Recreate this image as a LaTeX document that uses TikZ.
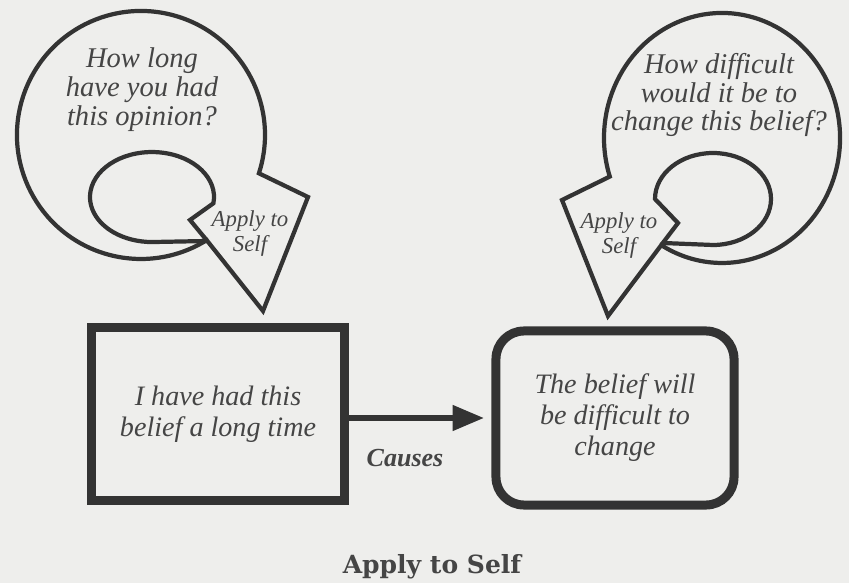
\documentclass[tikz,border=0pt]{standalone}
\usepackage{fontspec}
\setmainfont{Liberation Serif}
\newfontfamily\capfont{DejaVu Serif}
\usetikzlibrary{arrows.meta,positioning}
\definecolor{ink}{HTML}{333333}
\definecolor{paper}{HTML}{EEEEEC}
\definecolor{txt}{HTML}{454545}

\begin{document}
\begin{tikzpicture}[x=0.025cm, y=-0.025cm,
  bubble/.style={draw=ink, line width=3pt, line join=miter},
  qtext/.style={font=\fontsize{20.3}{20.6}\selectfont\itshape, align=center, text=txt, inner sep=0pt},
  tagtext/.style={font=\fontsize{16.2}{17.8}\selectfont\itshape, align=center, text=txt, inner sep=0pt},
  beliefbox/.style={rectangle, draw=ink, line width=6.4pt, align=center, text=txt,
    font=\fontsize{20}{22}\selectfont\itshape},
  arr/.style={-{Triangle[length=0.78cm, width=0.62cm]}, line width=3.6pt, draw=ink, shorten >=0.19cm}
]
  \useasboundingbox (0,0) rectangle (849,583);
  \fill[paper] (0,0) rectangle (849,583);

  % left thought bubble
  \draw[bubble] (258.9,173.3) arc[start angle=18, end angle=-302, radius=124]
    -- (263,311) -- (308,197) -- cycle;
  \draw[bubble] (206.7,240.2) -- (190,220) -- (213.4,203.3)
    arc[start angle=8, end angle=-270, x radius=62, y radius=45] -- (207,241);
  \node[qtext] (askleft) at (142,90) {How long\\have you had\\this opinion?};
  \node[tagtext] (tagleft) at (250,234) {Apply to\\Self};

  % right thought bubble
  \draw[bubble] (609.8,176.6) arc[start angle=162, end angle=481, x radius=118, y radius=125]
    -- (608,316) -- (562,200) -- cycle;
  \draw[bubble] (661.2,245.1) -- (678,223) -- (655,199)
    arc[start angle=180, end angle=450, x radius=58, y radius=46] -- (663,243);
  \node[qtext] (askright) at (719,95) {How difficult\\would it be to\\change this belief?};
  \node[tagtext] (tagright) at (619,236) {Apply to\\Self};

  % boxes
  \node[beliefbox, minimum width=6.34cm, minimum height=4.3cm] (belief) at (218,414)
    {I have had this\\belief a long time};
  \node[beliefbox, rounded corners=0.7cm, minimum width=5.95cm, minimum height=4.35cm] (result) at (615,418)
    {The belief will\\be difficult to\\change};
  \draw[arr] (belief.east |- result.west) -- (result.west);
  \node[font=\fontsize{18.5}{22}\selectfont\bfseries\itshape, text=txt] (causes) at (405,458) {Causes};

  \node[font=\capfont\bfseries\fontsize{17.8}{20}\selectfont, text=txt] (caption) at (432,567) {Apply to Self};
\end{tikzpicture}
\end{document}
